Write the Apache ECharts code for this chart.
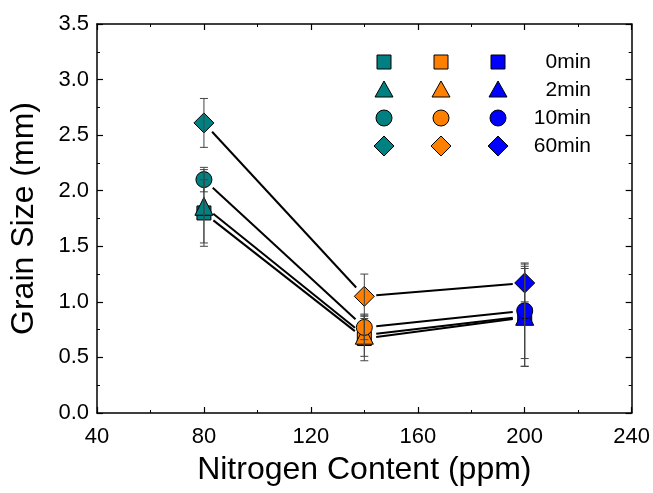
<!DOCTYPE html>
<html>
<head>
<meta charset="utf-8">
<script src="https://cdn.jsdelivr.net/npm/echarts@6/dist/echarts.min.js"></script>
<style>html,body{margin:0;padding:0;background:#fff}#c{width:653px;height:493px}</style>
</head>
<body>
<div id="c"></div>
<script>
// ---- data ----
const nitrogen = [80, 140, 200];
const timeLabels = ['0min', '2min', '10min', '60min'];
const size0min = [1.80, 0.67, 0.86];
const err0min = [0.30, 0.20, 0.44];
const size2min = [1.86, 0.70, 0.87];
const err2min = [0.33, 0.19, 0.45];
const size10min = [2.10, 0.77, 0.92];
const err10min = [0.11, 0.11, 0.43];
const size60min = [2.61, 1.05, 1.17];
const err60min = [0.22, 0.20, 0.17];
const xTicks = [40, 80, 120, 160, 200, 240];
const yTicks = [0.0, 0.5, 1.0, 1.5, 2.0, 2.5, 3.0, 3.5];

const pointColors = ['#008080', '#FF8000', '#0000FF'];
const shapes = ['rect', 'triangle', 'circle', 'diamond'];
const shapeSizes = [14, 18, 16, 20];
const sizes = [size0min, size2min, size10min, size60min];
const errs = [err0min, err2min, err10min, err60min];

const FONT = 'Liberation Sans, Arial, sans-serif';

const chart = echarts.init(document.getElementById('c'), null, {renderer: 'canvas'});

const series = [];
sizes.forEach(function (vals, s) {
  const data = nitrogen.map(function (x, i) { return [x, vals[i], errs[s][i]]; });
  // connecting lines with gaps near markers
  series.push({
    type: 'custom',
    z: 1,
    silent: true,
    data: data,
    renderItem: function (params, api) {
      const i = params.dataIndex;
      if (i >= data.length - 1) return null;
      const p0 = api.coord([data[i][0], data[i][1]]);
      const p1 = api.coord([data[i + 1][0], data[i + 1][1]]);
      const dx = p1[0] - p0[0], dy = p1[1] - p0[1];
      const len = Math.sqrt(dx * dx + dy * dy);
      const g = 12;
      const ux = dx / len, uy = dy / len;
      return {
        type: 'line',
        shape: {x1: p0[0] + ux * g, y1: p0[1] + uy * g, x2: p1[0] - ux * g, y2: p1[1] - uy * g},
        style: {stroke: '#000', lineWidth: 2}
      };
    }
  });
  // markers
  series.push({
    type: 'scatter',
    z: 2,
    name: timeLabels[s],
    symbol: shapes[s],
    symbolSize: shapeSizes[s],
    data: data.map(function (d) { return [d[0], d[1]]; }),
    itemStyle: {
      color: function (p) { return pointColors[p.dataIndex]; },
      borderColor: '#000',
      borderWidth: 1,
      opacity: 1
    }
  });
  // error bars
  series.push({
    type: 'custom',
    z: 3,
    silent: true,
    data: data,
    renderItem: function (params, api) {
      const x = api.value(0), y = api.value(1), e = api.value(2);
      const top = api.coord([x, y + e]);
      const bot = api.coord([x, y - e]);
      const hw = 4;
      const st = {stroke: '#444', lineWidth: 1};
      return {
        type: 'group',
        children: [
          {type: 'line', shape: {x1: top[0], y1: top[1], x2: bot[0], y2: bot[1]}, style: st},
          {type: 'line', shape: {x1: top[0] - hw, y1: top[1], x2: top[0] + hw, y2: top[1]}, style: st},
          {type: 'line', shape: {x1: bot[0] - hw, y1: bot[1], x2: bot[0] + hw, y2: bot[1]}, style: st}
        ]
      };
    }
  });
});

// legend table (graphic)
const legCols = [384, 441, 498];
const legRows = [62, 90, 118, 146];
const legend = [];
legRows.forEach(function (ry, r) {
  legCols.forEach(function (cx, c) {
    const col = pointColors[c];
    const st = {fill: col, stroke: '#000', lineWidth: 1};
    let el;
    if (r === 0) el = {type: 'rect', shape: {x: cx - 7, y: ry - 7, width: 14, height: 14}, style: st};
    else if (r === 1) el = {type: 'polygon', shape: {points: [[cx, ry - 9], [cx + 9, ry + 7], [cx - 9, ry + 7]]}, style: st};
    else if (r === 2) el = {type: 'circle', shape: {cx: cx, cy: ry, r: 8}, style: st};
    else el = {type: 'polygon', shape: {points: [[cx, ry - 10], [cx + 10, ry], [cx, ry + 10], [cx - 10, ry]]}, style: st};
    legend.push(el);
  });
  legend.push({
    type: 'text', x: 591, y: ry,
    style: {text: timeLabels[r], fill: '#000', font: '21px ' + FONT, textAlign: 'right', textVerticalAlign: 'middle'}
  });
});

const axisCommon = {
  axisLine: {show: true, onZero: false, lineStyle: {color: '#000', width: 1.5}},
  axisTick: {show: true, inside: true, length: 6, lineStyle: {color: '#000', width: 1.2}},
  minorTick: {show: true, splitNumber: 2, length: 3, lineStyle: {color: '#000', width: 1}},
  splitLine: {show: false}
};

const option = {
  backgroundColor: '#fff',
  animation: false,
  grid: {left: 97, right: 21, top: 24, bottom: 80, containLabel: false},
  xAxis: [
    Object.assign({
      type: 'value', min: xTicks[0], max: xTicks[xTicks.length - 1], interval: 40,
      position: 'bottom',
      name: 'Nitrogen Content (ppm)', nameLocation: 'middle', nameGap: 41,
      nameTextStyle: {fontSize: 32, fontFamily: FONT, color: '#000'},
      axisLabel: {show: true, margin: 13, fontSize: 22, fontFamily: FONT, color: '#000'}
    }, axisCommon),
    Object.assign({
      type: 'value', min: xTicks[0], max: xTicks[xTicks.length - 1], interval: 40,
      position: 'top', axisLabel: {show: false}
    }, axisCommon)
  ],
  yAxis: [
    Object.assign({
      type: 'value', min: yTicks[0], max: yTicks[yTicks.length - 1], interval: 0.5,
      position: 'left',
      name: 'Grain Size (mm)', nameLocation: 'middle', nameGap: 57,
      nameTextStyle: {fontSize: 32, fontFamily: FONT, color: '#000'},
      axisLabel: {show: true, margin: 8, fontSize: 22, fontFamily: FONT, color: '#000',
        formatter: function (v) { return v.toFixed(1); }}
    }, axisCommon),
    Object.assign({
      type: 'value', min: yTicks[0], max: yTicks[yTicks.length - 1], interval: 0.5,
      position: 'right', axisLabel: {show: false}
    }, axisCommon)
  ],
  graphic: legend,
  series: series
};

chart.setOption(option);
</script>
</body>
</html>
